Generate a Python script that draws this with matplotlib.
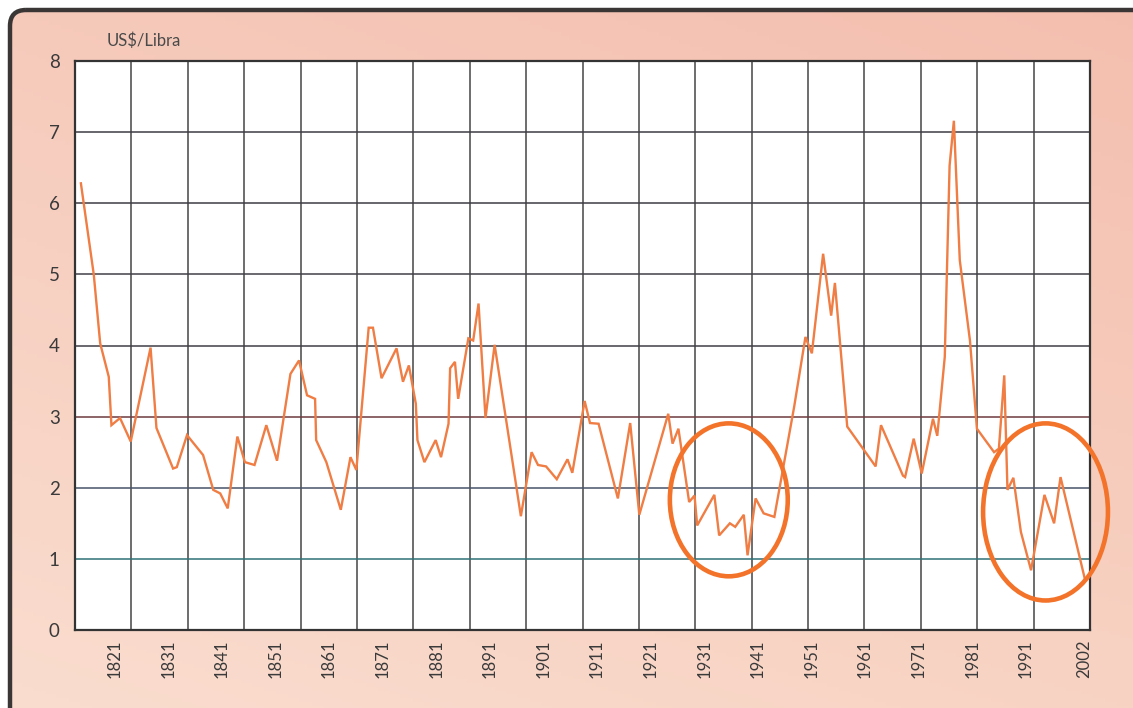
import numpy as np
import matplotlib
matplotlib.use("Agg")
import matplotlib.pyplot as plt
from matplotlib.patches import Ellipse, FancyBboxPatch

plt.rcParams['font.family'] = ['Lato', 'DejaVu Sans']

# coffee price, US$ per pound
years = [1814.7, 1817.1, 1818.3, 1819.9, 1820.4, 1822.0, 1824.0, 1827.7, 1828.8, 1831.9,
         1832.6, 1834.5, 1837.5, 1839.4, 1840.7, 1842.1, 1843.9, 1845.3, 1847.1, 1849.3,
         1851.3, 1853.8, 1855.4, 1856.9, 1858.4, 1858.6, 1860.5, 1863.2, 1865.0, 1866.1,
         1868.4, 1869.2, 1870.8, 1873.6, 1874.8, 1875.9, 1877.2, 1877.5, 1878.8, 1880.9,
         1881.9, 1883.3, 1883.6, 1884.5, 1885.1, 1887.0, 1887.9, 1888.9, 1890.2, 1891.9,
         1896.8, 1898.8, 1900.0, 1901.5, 1903.5, 1905.5, 1906.4, 1908.7, 1909.7, 1911.3,
         1914.9, 1917.2, 1918.9, 1924.3, 1925.1, 1926.2, 1928.2, 1929.2, 1929.7, 1932.9,
         1933.8, 1935.8, 1936.8, 1938.4, 1939.1, 1940.6, 1942.1, 1944.1, 1947.8, 1949.9,
         1951.1, 1953.2, 1954.7, 1955.4, 1957.7, 1963.0, 1964.0, 1968.1, 1968.5, 1970.1,
         1971.6, 1973.7, 1974.5, 1975.9, 1976.8, 1977.6, 1978.7, 1980.6, 1981.9, 1985.1,
         1986.0, 1987.0, 1987.6, 1988.7, 1990.1, 1992.0, 1994.5, 1996.3, 1997.5, 2002.0]
prices = [6.28, 5.00, 4.03, 3.56, 2.88, 2.98, 2.65, 3.97, 2.84, 2.27,
          2.29, 2.74, 2.46, 1.97, 1.92, 1.71, 2.72, 2.36, 2.32, 2.88,
          2.38, 3.60, 3.79, 3.30, 3.25, 2.67, 2.36, 1.69, 2.43, 2.25,
          4.25, 4.25, 3.54, 3.96, 3.49, 3.72, 3.18, 2.67, 2.36, 2.67,
          2.43, 2.90, 3.68, 3.77, 3.25, 4.10, 4.07, 4.59, 2.98, 4.01,
          1.60, 2.50, 2.32, 2.30, 2.12, 2.40, 2.21, 3.22, 2.91, 2.90,
          1.85, 2.91, 1.62, 3.04, 2.62, 2.83, 1.80, 1.89, 1.47, 1.90,
          1.33, 1.50, 1.45, 1.62, 1.05, 1.85, 1.64, 1.59, 3.14, 4.12,
          3.89, 5.29, 4.42, 4.88, 2.86, 2.30, 2.88, 2.17, 2.15, 2.69,
          2.20, 2.97, 2.73, 3.84, 6.53, 7.16, 5.20, 4.07, 2.83, 2.50,
          2.55, 3.58, 1.97, 2.14, 1.38, 0.84, 1.90, 1.50, 2.15, 0.73]

tick_years = [1821, 1831, 1841, 1851, 1861, 1871, 1881, 1891, 1901, 1911,
              1921, 1931, 1941, 1951, 1961, 1971, 1981, 1991, 2002]
y_ticks = [0, 1, 2, 3, 4, 5, 6, 7, 8]

# highlighted low-price periods: (centre year, centre price, width in years, height)
lows = [(1935.6, 1.83, 22.0, 2.15),
        (1994.7, 1.66, 23.3, 2.49)]

x_min, x_max = 1813.6, 2003.0
n_cols = 18

line_color = '#ef7d44'
ring_color = '#f3732a'
grid_color = '#454545'
hline_colors = {1: '#2f7278', 2: '#46546a', 3: '#6e3a40', 4: '#3f3f46',
                5: '#404048', 6: '#3c3c44', 7: '#3c3c44'}

W, H = 1133, 708
fig = plt.figure(figsize=(W / 100, H / 100), dpi=100)
fig.patch.set_facecolor('white')

# peach panel with a rounded dark frame
bg = fig.add_axes([0, 0, 1, 1])
bg.set_xlim(0, W)
bg.set_ylim(H, 0)
bg.axis('off')
corners = np.array([[[246, 202, 187], [244, 190, 174]],
                    [[250, 222, 208], [248, 212, 196]]], dtype=float) / 255
gy, gx = np.mgrid[0:1:200j, 0:1:300j]
grad = (corners[0, 0] * ((1 - gx) * (1 - gy))[..., None]
        + corners[0, 1] * (gx * (1 - gy))[..., None]
        + corners[1, 0] * ((1 - gx) * gy)[..., None]
        + corners[1, 1] * (gx * gy)[..., None])
frame = FancyBboxPatch((10, 10), W + 40, H + 40,
                       boxstyle='round,pad=0,rounding_size=16',
                       facecolor='none', edgecolor='#3a3636', lw=3.2, zorder=3)
bg.add_patch(frame)
img = bg.imshow(grad, extent=(10, W + 50, H + 50, 10), aspect='auto', zorder=1)
img.set_clip_path(frame)

ax = fig.add_axes([75 / W, 1 - 630 / H, (1090 - 75) / W, (630 - 61) / H])
ax.set_facecolor('white')
ax.set_xlim(x_min, x_max)
ax.set_ylim(0, 8)

for gx_ in np.linspace(x_min, x_max, n_cols + 1)[1:-1]:
    ax.axvline(gx_, color=grid_color, lw=1.1, zorder=1)
for yv in y_ticks[1:-1]:
    ax.axhline(yv, color=hline_colors[yv], lw=1.1, zorder=1)

ax.plot(years, prices, color=line_color, lw=1.7, zorder=3, solid_joinstyle='miter')

for cx, cy, w, h in lows:
    ax.add_patch(Ellipse((cx, cy), w, h, fill=False, edgecolor=ring_color,
                         lw=3.3, zorder=4, clip_on=False))

ax.set_xticks(tick_years)
ax.set_xticklabels([str(y) for y in tick_years], rotation=90, fontsize=12,
                   color='#3a3a3a')
ax.set_yticks(y_ticks)
ax.set_yticklabels([str(v) for v in y_ticks], fontsize=13.5, color='#3a3a3a')
ax.tick_params(axis='x', length=0, pad=7)
ax.tick_params(axis='y', length=0, pad=11)
for side in ['left', 'right', 'top', 'bottom']:
    ax.spines[side].set_color('#333333')
    ax.spines[side].set_linewidth(1.6)

fig.text(107 / W, 1 - 41 / H, 'US$/Libra', fontsize=12, color='#4a4a4a',
         va='center', ha='left')

fig.savefig('out.png', dpi=100)
